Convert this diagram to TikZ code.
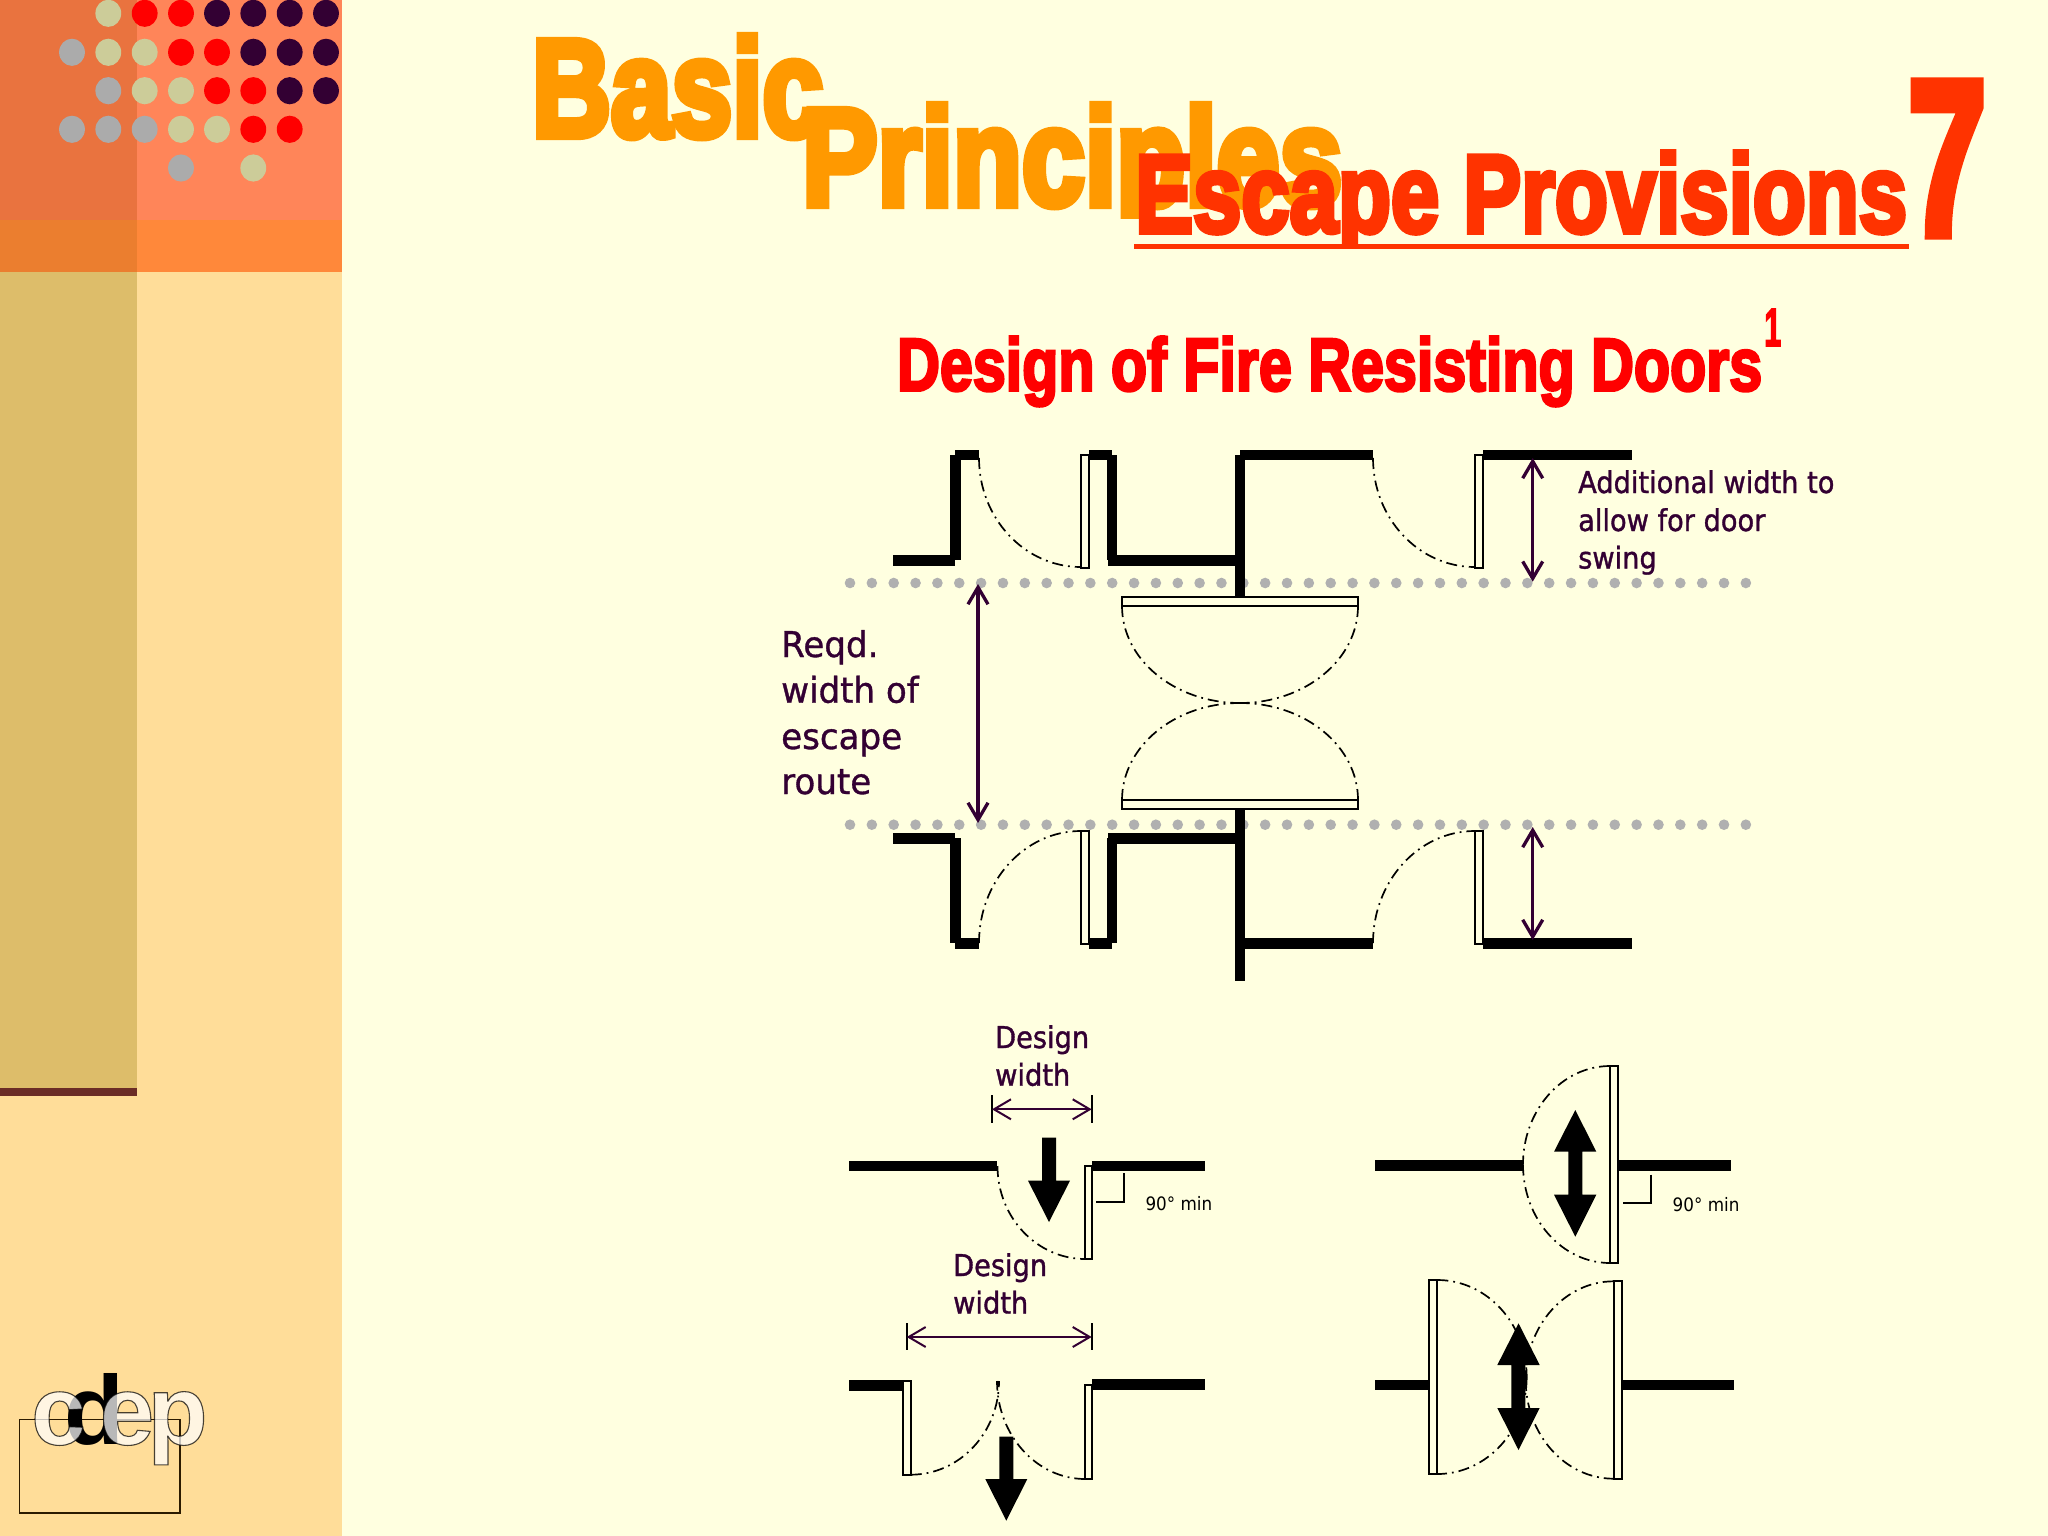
\documentclass[tikz,border=0pt]{standalone}
\usepackage{fontspec}
\usepackage{graphicx}
\usetikzlibrary{arrows.meta}
\setmainfont{Liberation Sans}
\newfontfamily\tah[FakeStretch=0.907]{DejaVu Sans}
\newfontfamily\tahb[FakeStretch=0.96]{DejaVu Sans}
\definecolor{bgcream}{HTML}{FFFFE0}
\definecolor{panel}{HTML}{FFDD99}
\definecolor{panelD}{HTML}{DDBD6A}
\definecolor{panelTop}{HTML}{FF8559}
\definecolor{panelTopD}{HTML}{E9733F}
\definecolor{band}{HTML}{FF883A}
\definecolor{bandD}{HTML}{EB7E2F}
\definecolor{brownline}{HTML}{6B2C26}
\definecolor{dotTan}{HTML}{CCCC99}
\definecolor{dotGrey}{HTML}{ABABAB}
\definecolor{dotDark}{HTML}{330033}
\definecolor{roadDot}{HTML}{B0B0B0}
\definecolor{ink}{HTML}{330033}
\definecolor{titleA}{HTML}{FF9900}
\definecolor{titleB}{HTML}{FF3300}
\definecolor{logoline}{HTML}{2B1A00}
\newcommand{\heavy}[2]{\special{pdf:code 2 Tr #1 w}#2\special{pdf:code 0 Tr}}
\newcommand{\outl}[1]{\special{pdf:code 2 Tr 1.1 w 0 0 0 RG}#1\special{pdf:code 0 Tr}}
\newcommand{\swing}[6]{%
  \pgfmathsetmacro\pax{#1+.5523*(#3-#1)}\pgfmathsetmacro\pay{#2+.5523*(#4-#2)}%
  \pgfmathsetmacro\pbx{#5+.5523*(#3-#5)}\pgfmathsetmacro\pby{#6+.5523*(#4-#6)}%
  \draw[swingline] (#1,#2) .. controls (\pax,\pay) and (\pbx,\pby) .. (#5,#6);}
\newcommand{\wallbox}[4]{\fill[black] (#1,#2) rectangle (#3,#4);}
\newcommand{\doorbox}[4]{\draw[doorleaf] (#1,#2) rectangle (#3,#4);}
\tikzset{
  swingline/.style={black,line width=1.7pt,dash pattern=on 11pt off 5pt on 1.8pt off 5pt},
  doorleaf/.style={draw=black,fill=bgcream,line width=1.9pt},
  dimtall/.style={ink,line width=3.3pt,{Straight Barb[length=17pt,width=20pt]}-{Straight Barb[length=17pt,width=20pt]}},
  dimthin/.style={ink,line width=2pt,{Straight Barb[length=17pt,width=20pt]}-{Straight Barb[length=17pt,width=20pt]}},
  tick/.style={black,line width=1.6pt},
  label/.style={inner sep=0pt,anchor=base west,text=ink,font=\tah\fontsize{30}{30}\selectfont},
  biglabel/.style={inner sep=0pt,anchor=base west,text=ink,font=\tahb\fontsize{35.5}{35.5}\selectfont},
  minlabel/.style={inner sep=0pt,anchor=base west,text=black,font=\tah\fontsize{18.5}{18.5}\selectfont},
  ttl/.style={inner sep=0pt,anchor=base west,font=\bfseries\fontsize{100}{100}\selectfont},
  logo/.style={inner sep=0pt,anchor=base west,font=\bfseries\fontsize{98}{98}\selectfont},
}
\begin{document}
\begin{tikzpicture}[x=1pt,y=-1pt]
\useasboundingbox (0,0) rectangle (2048,1536);
\fill[bgcream] (0,0) rectangle (2048,1536);
% side panel
\fill[panel] (0,0) rectangle (342,1536);
\fill[panelTop] (0,0) rectangle (342,220);
\fill[band] (0,220) rectangle (342,272);
\fill[panelD] (0,272) rectangle (137,1088);
\fill[panelTopD] (0,0) rectangle (137,220);
\fill[bandD] (0,220) rectangle (137,272);
\fill[brownline] (0,1088) rectangle (137,1096);
% decorative dots
\foreach \cx/\cy/\cc in {
 108.3/13.3/dotTan,144.7/13.3/red,181/13.3/red,217/13.3/dotDark,253.3/13.3/dotDark,289.7/13.3/dotDark,326/13.3/dotDark,
 72/52.3/dotGrey,108.3/52.3/dotTan,144.7/52.3/dotTan,181/52.3/red,217/52.3/red,253.3/52.3/dotDark,289.7/52.3/dotDark,326/52.3/dotDark,
 108.3/90.7/dotGrey,144.7/90.7/dotTan,181/90.7/dotTan,217/90.7/red,253.3/90.7/red,289.7/90.7/dotDark,326/90.7/dotDark,
 72/129.3/dotGrey,108.3/129.3/dotGrey,144.7/129.3/dotGrey,181/129.3/dotTan,217/129.3/dotTan,253.3/129.3/red,289.7/129.3/red,
 181/168/dotGrey,253.3/168/dotTan}
 {\fill[\cc] (\cx,\cy) ellipse [x radius=12.9pt,y radius=13.6pt];}
% logo
\draw[logoline,line width=1.6pt] (19.3,1419.3) rectangle (179.7,1512.7);
\node[logo,text=black] (logod) at (64,1444.5) {d};
\node[logo,text=white,text opacity=.72] (logoc) at (31,1444.5) {\outl{c}};
\node[logo,text=white,text opacity=.72] (logoe) at (99.5,1444.5) {\outl{e}};
\node[logo,text=white,text opacity=.72] (logop) at (147.5,1444.5) {\outl{p}};
% titles
\node[ttl,text=titleA] (basic) at (532,136) {\resizebox{291pt}{100pt}{\heavy{6}{Basic}}};
\begin{scope}
\clip (780,80) rectangle (1400,218);
\node[ttl,text=titleA] (princ) at (802,205) {\resizebox{540pt}{100pt}{\heavy{6}{Principles}}};
\end{scope}
\begin{scope}
\clip (1100,130) rectangle (1930,243);
\node[ttl,text=titleB] (escape) at (1135,232) {\resizebox{772pt}{80pt}{\heavy{5}{Escape Provisions}}};
\end{scope}
\fill[titleB] (1134,244) rectangle (1909,249);
\node[ttl,text=titleB] (seven) at (1908,234) {\resizebox{78pt}{151pt}{\heavy{5}{7}}};
\node[ttl,text=red] (design) at (897,390.5) {\resizebox{865pt}{54pt}{\heavy{4}{Design of Fire Resisting Doors}}};
\node[ttl,text=red] (supone) at (1764,346) {\resizebox{17pt}{37pt}{\heavy{3}{1}}};
% road edges
\foreach \i in {0,...,41}{
 \fill[roadDot] ({850+21.85*\i},583) circle [radius=5.3pt];
 \fill[roadDot] ({850+21.85*\i},824.7) circle [radius=5.3pt];
}
% upper walls
\wallbox{892.7}{555}{955}{565.7}
\wallbox{950}{455}{960.7}{560}
\wallbox{955}{449.7}{979}{460.3}
\wallbox{1088.7}{449.7}{1112.3}{460.3}
\wallbox{1107}{455}{1117.3}{560}
\wallbox{1107.7}{555}{1235}{565.7}
\wallbox{1234.7}{455}{1245.3}{597}
\wallbox{1240}{449.7}{1373}{460.3}
\wallbox{1483.3}{449.7}{1632}{460.3}
\doorbox{1080.7}{455}{1088.7}{567.7}
\doorbox{1474.7}{455}{1483.3}{567.7}
\swing{979}{458}{979}{567}{1080.7}{567}
\swing{1373}{458}{1373}{567}{1474.7}{567}
% lower walls
\wallbox{892.7}{833.3}{955}{843.7}
\wallbox{950}{838}{960.7}{943}
\wallbox{955}{938.3}{979}{949}
\wallbox{1088.7}{938.3}{1112.3}{949}
\wallbox{1107}{838}{1117.3}{943}
\wallbox{1107.7}{833.3}{1235}{843.7}
\wallbox{1234.7}{808}{1245.3}{981}
\wallbox{1240}{938.3}{1373}{949}
\wallbox{1483.3}{938.3}{1632}{949}
\doorbox{1080.7}{830.7}{1088.7}{944}
\doorbox{1474.7}{830.7}{1483.3}{944}
\swing{979}{943}{979}{831}{1080.7}{831}
\swing{1373}{943}{1373}{831}{1474.7}{831}
% central doors
\doorbox{1122}{597.3}{1357.7}{605.7}
\doorbox{1122}{800.3}{1357.7}{808.7}
\swing{1122}{606}{1122}{703}{1240}{703}
\swing{1358}{606}{1358}{703}{1240}{703}
\swing{1122}{800}{1122}{703}{1240}{703}
\swing{1358}{800}{1358}{703}{1240}{703}
% dimension arrows
\coordinate (reqT) at (978,584);
\coordinate (reqB) at (978,823);
\draw[dimtall] (reqT) -- (reqB);
\coordinate (addT) at (1532.7,458);
\coordinate (addB) at (1532.7,581.7);
\draw[dimtall] (addT) -- (addB);
\coordinate (addT2) at (1532.7,827);
\coordinate (addB2) at (1532.7,940);
\draw[dimtall] (addT2) -- (addB2);
% labels
\node[label] (add1) at (1578,493) {\heavy{.35}{Additional width to}};
\node[label] (add2) at (1578,531) {\heavy{.35}{allow for door}};
\node[label] (add3) at (1578,568.5) {\heavy{.35}{swing}};
\node[biglabel] (req1) at (781,657) {\heavy{.35}{Reqd.}};
\node[biglabel] (req2) at (781,702.7) {\heavy{.35}{width of}};
\node[biglabel] (req3) at (781,749) {\heavy{.35}{escape}};
\node[biglabel] (req4) at (781,794) {\heavy{.35}{route}};
% diagram 1: single door one way
\node[label] (dw1) at (995,1048) {\heavy{.35}{Design}};
\node[label] (dw2) at (995,1085.7) {\heavy{.35}{width}};
\coordinate (d1a) at (992,1095); \coordinate (d1b) at (992,1123.3);
\coordinate (d1c) at (1091.7,1095); \coordinate (d1d) at (1091.7,1123.3);
\coordinate (d1l) at (992,1109.3); \coordinate (d1r) at (1091.7,1109.3);
\draw[tick] (d1a) -- (d1b);
\draw[tick] (d1c) -- (d1d);
\draw[dimthin] (d1l) -- (d1r);
\wallbox{849.3}{1160.7}{997.3}{1171.3}
\wallbox{1092.3}{1160.7}{1205}{1171.3}
\doorbox{1085.3}{1166}{1092.3}{1259.3}
\swing{997.5}{1166}{997.5}{1259}{1085.3}{1259}
\fill[black] (1042,1137.7) -- (1056,1137.7) -- (1056,1180.7) -- (1070,1180.7) -- (1049,1222) -- (1028,1180.7) -- (1042,1180.7) -- cycle;
\coordinate (m1a) at (1124,1173.3); \coordinate (m1b) at (1124,1201.7); \coordinate (m1c) at (1095.7,1201.7);
\draw[tick] (m1a) -- (m1b) -- (m1c);
\node[minlabel] (min1) at (1145.3,1210) {90° min};
% diagram 2: single door two way
\wallbox{1375.3}{1160.3}{1523.3}{1171}
\wallbox{1618}{1160.3}{1731}{1171}
\doorbox{1610}{1065.7}{1618}{1263.3}
\swing{1610}{1066}{1523}{1066}{1523}{1164.5}
\swing{1523}{1164.5}{1523}{1263}{1610}{1263}
\fill[black] (1575.3,1110) -- (1596.3,1151.7) -- (1582.3,1151.7) -- (1582.3,1194.7) -- (1596.3,1194.7) -- (1575.3,1236.7) -- (1554,1194.7) -- (1568.3,1194.7) -- (1568.3,1151.7) -- (1554,1151.7) -- cycle;
\coordinate (m2a) at (1651,1174.7); \coordinate (m2b) at (1651,1203); \coordinate (m2c) at (1622.7,1203);
\draw[tick] (m2a) -- (m2b) -- (m2c);
\node[minlabel] (min2) at (1672.5,1211.7) {90° min};
% diagram 3: double door one way
\node[label] (dw3) at (953,1276) {\heavy{.35}{Design}};
\node[label] (dw4) at (953,1313.5) {\heavy{.35}{width}};
\coordinate (d3a) at (906.7,1323.3); \coordinate (d3b) at (906.7,1350);
\coordinate (d3c) at (1091.7,1323.3); \coordinate (d3d) at (1091.7,1350);
\coordinate (d3l) at (906.7,1337); \coordinate (d3r) at (1091.7,1337);
\draw[tick] (d3a) -- (d3b);
\draw[tick] (d3c) -- (d3d);
\draw[dimthin] (d3l) -- (d3r);
\wallbox{849.3}{1380}{903.3}{1390.7}
\wallbox{1092.3}{1379.3}{1205}{1390.3}
\doorbox{903.3}{1380.7}{910.7}{1474.7}
\doorbox{1085.3}{1385}{1092.3}{1479}
\swing{910.7}{1474.7}{999}{1474.7}{999}{1381}
\swing{1085.3}{1479}{997}{1479}{997}{1381}
\fill[black] (999.3,1436.7) -- (1013.3,1436.7) -- (1013.3,1479) -- (1027.3,1479) -- (1006.3,1520.7) -- (985.3,1479) -- (999.3,1479) -- cycle;
% diagram 4: double door two way
\wallbox{1375.3}{1379.7}{1429.3}{1390.3}
\wallbox{1621.7}{1379.7}{1734.3}{1390}
\doorbox{1429.3}{1279.7}{1437.3}{1474}
\doorbox{1613.7}{1281.3}{1621.7}{1478.7}
\swing{1437.3}{1280}{1526.7}{1280}{1526.7}{1377}
\swing{1526.7}{1377}{1526.7}{1474}{1437.3}{1474}
\swing{1613.7}{1281.3}{1525.7}{1281.3}{1525.7}{1380}
\swing{1525.7}{1380}{1525.7}{1478.7}{1613.7}{1478.7}
\fill[black] (1518.5,1323.3) -- (1539.7,1365) -- (1525.3,1365) -- (1525.3,1408) -- (1539.7,1408) -- (1518.5,1450) -- (1497.3,1408) -- (1511.3,1408) -- (1511.3,1365) -- (1497.3,1365) -- cycle;
\end{tikzpicture}
\end{document}
